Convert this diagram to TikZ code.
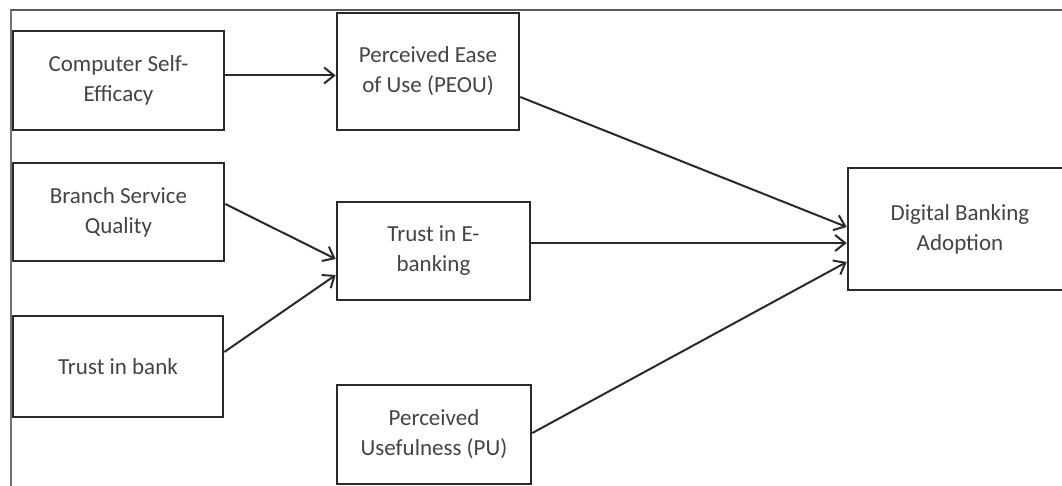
\documentclass[tikz,border=0pt]{standalone}
\usepackage{fontspec}
\setmainfont{Carlito}
\usetikzlibrary{arrows.meta,calc}
\definecolor{txt}{HTML}{444444}
\definecolor{ln}{HTML}{2A2A2A}
\tikzset{
  box/.style={draw=ln, line width=2.6pt, fill=white, align=center, text=txt,
    font=\fontsize{23}{30}\selectfont, inner sep=0pt},
  arr/.style={draw=ln, line width=2pt, -{Straight Barb[length=10pt,width=16pt,line width=2pt]}},
  frame/.style={draw=black!65, line width=2.6pt}
}
\begin{document}
\begin{tikzpicture}[x=1pt,y=-1pt]
\clip (0,0) rectangle (1062,486);
\fill[white] (0,0) rectangle (1062,486);
\draw[frame] (10,10) -- (1062,10);
\draw[frame, draw=black!55] (11,10) -- (11,486);
\node[box, minimum width=211pt, minimum height=99pt] (cse) at (118.5,80.5) {Computer Self-\\Efficacy};
\node[box, minimum width=182pt, minimum height=117pt] (peou) at (428,71.5) {Perceived Ease\\of Use (PEOU)};
\node[box, minimum width=211pt, minimum height=98pt] (bsq) at (118.5,212) {Branch Service\\Quality};
\node[box, minimum width=210pt, minimum height=101pt] (tib) at (118,366.5) {Trust in bank};
\node[box, minimum width=193pt, minimum height=98pt] (tie) at (433.5,251) {Trust in E-\\banking};
\node[box, minimum width=194pt, minimum height=99pt] (pu) at (434,434.5) {Perceived\\Usefulness (PU)};
\node[box, minimum width=224pt, minimum height=122pt] (dba) at (960,229) {Digital Banking\\Adoption};
\draw[arr] ([yshift=5pt]cse.east) -- ([yshift=5pt]cse.east -| peou.west);
\draw[arr] ([yshift=-25.5pt]peou.east) -- ([yshift=2pt]dba.west);
\draw[arr] ([yshift=8pt]bsq.east) -- ([yshift=-8pt]tie.west);
\draw[arr] ([yshift=14.5pt]tib.east) -- ([yshift=-24pt]tie.west);
\draw[arr] ([yshift=8pt]tie.east) -- ([yshift=8pt]tie.east -| dba.west);
\draw[arr] ([yshift=1.5pt]pu.east) -- ([yshift=-33pt]dba.west);
\end{tikzpicture}
\end{document}
